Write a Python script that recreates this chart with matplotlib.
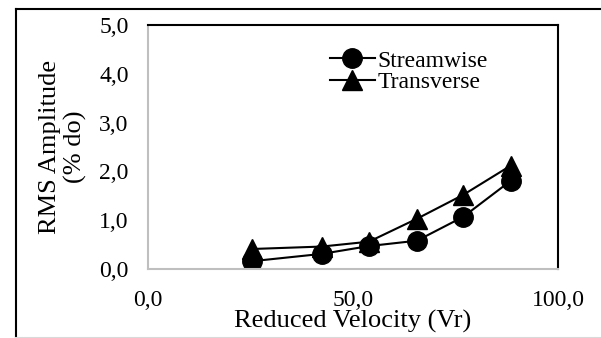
import matplotlib
matplotlib.use('Agg')
import matplotlib.pyplot as plt
from matplotlib.lines import Line2D
from matplotlib.ticker import FuncFormatter

# reduced velocity values
vr = [25.4, 42.4, 53.9, 65.6, 76.9, 88.5]
streamwise = [0.16, 0.31, 0.47, 0.58, 1.07, 1.81]
transverse = [0.41, 0.46, 0.56, 1.03, 1.52, 2.12]

x_ticks = [0, 50, 100]
y_ticks = [0, 1, 2, 3, 4, 5]

plt.rcParams['font.family'] = ['Liberation Serif', 'DejaVu Serif']

fig = plt.figure(figsize=(6.01, 3.38), dpi=100)

# outer chart frame (left and top black, bottom light gray)
fig.add_artist(Line2D([15.5 / 601, 15.5 / 601], [0, 1 - 8.5 / 338], color='black', lw=1.5))
fig.add_artist(Line2D([15.5 / 601, 1], [1 - 8.5 / 338, 1 - 8.5 / 338], color='black', lw=1.5))
fig.add_artist(Line2D([15.5 / 601, 1], [0.5 / 338, 0.5 / 338], color='#d9d9d9', lw=1.5))

ax = fig.add_axes([148 / 601, 1 - 269 / 338, (558 - 148) / 601, (269 - 25) / 338])

ax.plot(vr, streamwise, color='black', lw=1.5, marker='o', markersize=14, label='Streamwise')
ax.plot(vr, transverse, color='black', lw=1.5, marker='^', markersize=14, label='Transverse')

ax.set_xlim(0, 100)
ax.set_ylim(0, 5)
ax.set_xticks(x_ticks)
ax.set_yticks(y_ticks)
comma = FuncFormatter(lambda v, p: ('%.1f' % v).replace('.', ','))
ax.xaxis.set_major_formatter(comma)
ax.yaxis.set_major_formatter(comma)
ax.tick_params(length=0, labelsize=17, pad=14)
ax.tick_params(axis='x', pad=15)

for s in ['left', 'bottom']:
    ax.spines[s].set_color('#bfbfbf')
    ax.spines[s].set_linewidth(1.5)
for s in ['top', 'right']:
    ax.spines[s].set_color('black')
    ax.spines[s].set_linewidth(1.5)

ax.set_xlabel('Reduced Velocity (Vr)', fontsize=19, labelpad=-1)
ax.set_ylabel('RMS Amplitude\n(% do)', fontsize=19, labelpad=9, linespacing=1.12)

ax.legend(loc='upper left', bbox_to_anchor=(0.415, 0.945), frameon=False, fontsize=17,
          handlelength=1.9, handletextpad=0.1, labelspacing=0.0, borderpad=0)

fig.savefig('out.png', dpi=100)
